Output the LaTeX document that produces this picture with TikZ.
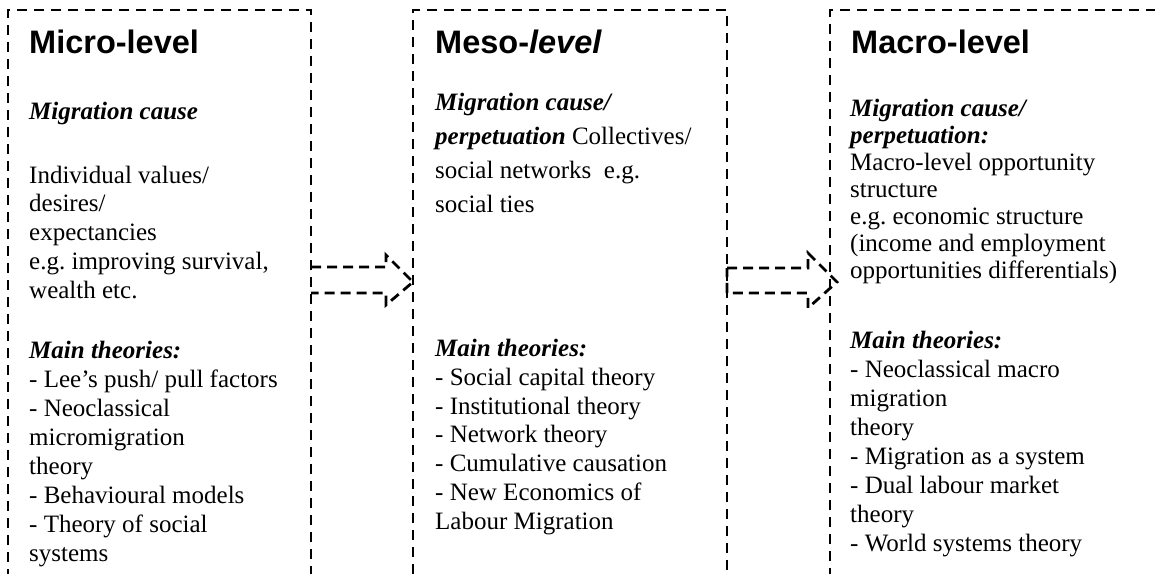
\documentclass[tikz,border=0pt]{standalone}
\usepackage{fontspec}
\setmainfont{Liberation Serif}
\newfontfamily\titlefont{Liberation Sans}
\usetikzlibrary{calc}
\frenchspacing
\tikzset{
  levelbox/.style={draw=black, line width=2.8pt, dash pattern=on 10pt off 7pt,
    inner sep=0pt, outer sep=0pt, anchor=north west},
  flowarrow/.style={draw=black, line width=2.8pt, dash pattern=on 10pt off 6pt,
    line join=miter},
  titletext/.style={anchor=base west, inner sep=0pt,
    font={\titlefont\bfseries\fontsize{32.5}{36}\selectfont}},
  bodytext/.style={anchor=base west, inner sep=0pt, align=left}
}
\begin{document}
\begin{tikzpicture}[x=1pt,y=-1pt]
\useasboundingbox (0,0) rectangle (1155,573);
\clip (0,0) rectangle (1155,573);
\fill[white] (0,0) rectangle (1155,573);

% boxes
\node[levelbox, minimum width=303pt, minimum height=620pt] (micro) at (8,10) {};
\node[levelbox, minimum width=314pt, minimum height=620pt] (meso) at (413,10) {};
\node[levelbox, minimum width=380pt, minimum height=620pt] (macro) at (830,10) {};

% arrows
\coordinate (tip1) at (413,282);
\coordinate (tip2) at (837,282);
\draw[flowarrow] ($(micro.east |- tip1)+(0,-15)$) -- ++(75,0) -- ++(0,-12)
  -- (tip1) -- ++(-27,23) -- ++(0,-12) -- ($(micro.east |- tip1)+(0,11)$);
\draw[flowarrow] ($(meso.east |- tip1)+(0,-14)$) -- ++(81,0) -- ++(0,-15)
  -- (tip2) -- ++(-29,26) -- ++(0,-15) -- ($(meso.east |- tip1)+(0,11)$) -- cycle;

% micro texts (base anchor = baseline of the last line)
\node[titletext] (microtitle) at (29,53) {Micro-level};
\node[bodytext, font={\fontsize{25}{30}\selectfont}] (microcause) at (29,119)
  {\textbf{\textit{Migration cause}}};
\node[bodytext, font={\fontsize{25}{28.75}\selectfont}] (microdesc) at (29,298)
  {Individual values/\\desires/\\expectancies\\e.g. improving survival,\\wealth etc.};
\node[bodytext, font={\fontsize{25}{29}\selectfont}] (microtheo) at (29,561)
  {\textbf{\textit{Main theories:}}\\- Lee's push/ pull factors\\- Neoclassical\\micromigration\\theory\\- Behavioural models\\- Theory of social\\systems};

% meso texts
\node[titletext] (mesotitle) at (435,53) {Meso-\textit{level}};
\node[bodytext, font={\fontsize{25}{33.7}\selectfont}] (mesodesc) at (435,212)
  {\textbf{\textit{Migration cause/}}\\\textbf{\textit{perpetuation}} Collectives/\\social networks\ \ e.g.\\social ties};
\node[bodytext, font={\fontsize{25}{28.7}\selectfont}] (mesotheo) at (435,529)
  {\textbf{\textit{Main theories:}}\\- Social capital theory\\- Institutional theory\\- Network theory\\- Cumulative causation\\- New Economics of\\Labour Migration};

% macro texts
\node[titletext] (macrotitle) at (851,53) {Macro-level};
\node[bodytext, font={\fontsize{25}{27}\selectfont}] (macrodesc) at (850,278)
  {\textbf{\textit{Migration cause/}}\\\textbf{\textit{perpetuation:}}\\Macro-level opportunity\\structure\\e.g. economic structure\\(income and employment\\opportunities differentials)};
\node[bodytext, font={\fontsize{25}{28.9}\selectfont}] (macrotheo) at (850,551)
  {\textbf{\textit{Main theories:}}\\- Neoclassical macro\\migration\\theory\\- Migration as a system\\- Dual labour market\\theory\\- World systems theory};
\end{tikzpicture}
\end{document}
